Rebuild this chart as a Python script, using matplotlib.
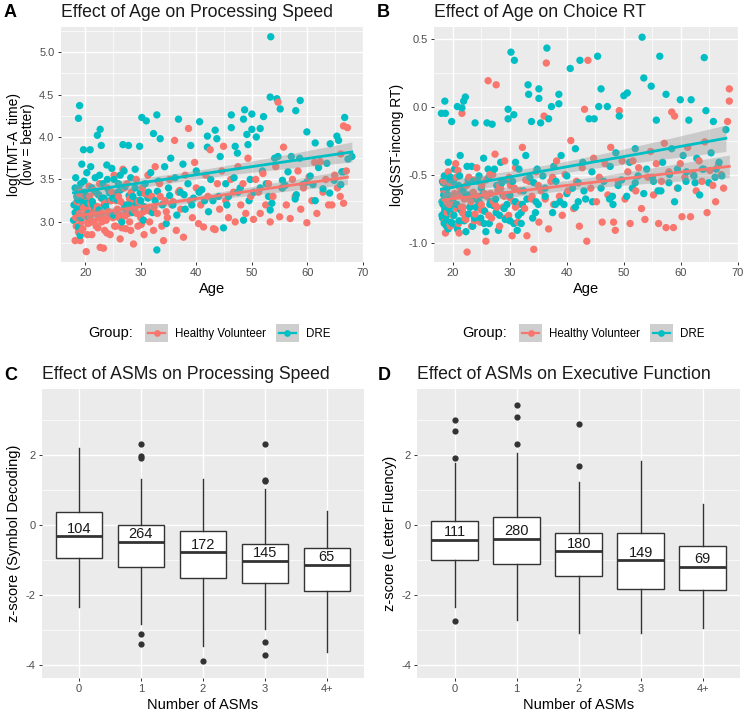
import numpy as np
import matplotlib
matplotlib.use("Agg")
import matplotlib.pyplot as plt
from matplotlib.patches import Rectangle
from matplotlib.lines import Line2D
from matplotlib.ticker import MultipleLocator

plt.rcParams['font.family'] = ['Liberation Sans', 'DejaVu Sans']
plt.rcParams['axes.unicode_minus'] = False

HV_COL = '#F8766D'
DRE_COL = '#00BFC4'

# ---- panel A: (age, log TMT-A time)
hv_tmt = [
    (18.2, 2.78), (18.4, 2.95), (18.5, 3.05), (18.6, 3.15), (18.7, 3.25), (18.8, 2.88), (19.0, 3.10),
    (19.1, 2.78), (19.2, 3.35), (19.3, 3.00), (19.5, 3.20), (19.6, 2.92), (19.8, 3.08), (20.0, 3.30),
    (20.2, 2.65), (20.3, 3.15), (20.5, 2.98), (20.7, 3.42), (20.9, 3.05), (21.0, 3.22), (21.2, 2.85),
    (21.4, 3.12), (21.6, 3.00), (21.8, 3.35), (22.0, 2.95), (22.2, 3.18), (22.4, 3.05), (22.7, 2.70),
    (22.9, 3.28), (23.0, 3.10), (23.3, 2.69), (23.5, 2.90), (23.6, 3.22), (23.8, 3.02), (24.0, 3.40),
    (24.2, 3.12), (24.5, 2.85), (24.7, 3.25), (25.0, 3.05), (25.2, 3.55), (25.5, 2.95), (25.8, 3.15),
    (26.0, 3.30), (26.3, 2.80), (26.5, 3.08), (26.8, 3.62), (27.0, 3.20), (27.3, 2.92), (27.5, 3.45),
    (27.8, 3.10), (28.0, 3.00), (28.3, 3.35), (28.7, 2.74), (29.0, 3.18), (29.2, 3.50), (29.5, 2.95),
    (29.8, 3.25), (30.0, 3.05), (30.3, 3.40), (30.6, 2.85), (31.0, 3.15), (31.3, 3.55), (31.6, 3.00),
    (32.0, 3.30), (32.3, 2.90), (32.6, 3.65), (33.0, 3.10), (33.4, 3.45), (33.8, 2.95), (34.1, 2.78),
    (34.4, 3.25), (34.8, 3.05), (35.2, 3.50), (35.6, 3.20), (36.1, 3.96), (36.4, 2.90), (36.8, 3.35),
    (37.2, 3.15), (37.7, 2.82), (38.0, 3.55), (38.6, 4.10), (38.9, 3.25), (39.3, 3.05), (39.7, 3.70),
    (40.0, 3.40), (40.4, 2.98), (40.8, 3.20), (41.3, 2.94), (41.7, 3.55), (42.1, 3.30), (42.5, 3.85),
    (43.1, 2.92), (43.4, 2.91), (43.8, 3.45), (44.2, 3.15), (44.6, 3.60), (44.9, 3.89), (45.3, 3.25),
    (45.8, 3.05), (46.2, 3.50), (46.7, 3.35), (47.0, 3.00), (47.5, 3.65), (48.0, 3.20), (48.4, 3.45),
    (48.9, 3.10), (49.3, 3.75), (49.8, 3.30), (50.3, 3.03), (50.7, 3.50), (51.2, 3.35), (51.5, 3.10),
    (52.0, 3.57), (52.5, 3.20), (53.0, 3.45), (53.3, 3.00), (53.8, 3.30), (54.3, 3.65), (54.7, 4.41),
    (55.0, 3.06), (55.4, 3.40), (55.7, 3.88), (56.2, 3.20), (56.9, 3.04), (57.3, 3.50), (57.8, 3.30),
    (58.3, 3.60), (58.8, 3.15), (59.3, 3.40), (59.9, 2.99), (60.3, 3.53), (60.8, 3.25), (61.3, 3.70),
    (61.7, 3.10), (62.3, 3.71), (62.8, 3.35), (63.3, 3.50), (63.8, 3.20), (64.4, 3.20), (64.9, 3.55),
    (65.4, 3.40), (65.9, 3.30), (66.5, 3.22), (66.5, 4.13), (67.2, 4.11), (67.0, 3.60), (66.0, 3.80),
    (18.3, 3.05), (18.6, 2.95), (19.0, 3.33), (19.4, 2.90), (19.7, 3.17), (20.1, 3.07), (20.4, 2.85),
    (20.8, 3.30), (21.1, 3.00), (21.5, 3.37), (21.9, 3.13), (22.3, 2.93), (22.6, 3.45), (23.1, 3.05),
    (23.4, 3.20), (23.9, 2.87), (24.3, 3.10), (24.8, 3.35), (25.3, 2.95), (25.6, 3.25), (26.1, 3.05),
    (26.6, 2.93), (27.1, 3.40), (27.6, 3.10), (28.2, 2.90), (28.6, 3.27), (29.3, 3.10), (30.1, 2.97),
    (30.8, 3.33), (31.5, 3.13),
    (18.5, 3.24), (19.0, 3.04), (19.6, 3.18), (20.2, 3.30), (20.6, 3.02), (21.2, 3.20), (21.8, 3.10),
    (22.4, 3.32), (23.0, 3.00), (23.7, 3.22), (24.3, 3.08), (25.0, 3.30), (25.7, 3.12), (26.4, 3.24),
    (27.2, 3.07), (28.0, 3.27), (28.8, 3.14), (29.6, 3.24), (30.5, 3.12), (31.4, 3.32), (32.4, 3.17),
    (33.5, 3.30), (34.6, 3.12), (35.8, 3.24), (37.0, 3.37),
]
dre_tmt = [
    (17.9, 3.02), (18.0, 3.20), (18.2, 3.40), (18.3, 3.52), (18.5, 3.30), (18.6, 3.15), (18.8, 2.94),
    (18.8, 4.22), (19.0, 4.37), (19.1, 2.84), (19.2, 3.45), (19.4, 3.68), (19.5, 3.25), (19.7, 3.85),
    (19.9, 3.35), (20.1, 3.25), (20.3, 3.58), (20.6, 3.10), (20.9, 3.85), (21.2, 3.40), (21.5, 3.20),
    (21.8, 3.52), (22.2, 4.02), (22.4, 3.32), (22.7, 4.09), (22.9, 3.90), (23.2, 3.45), (23.5, 3.20),
    (23.9, 3.67), (24.2, 3.38), (24.5, 3.25), (24.8, 3.63), (25.2, 3.50), (25.5, 3.10), (25.9, 3.35),
    (26.3, 3.55), (26.6, 3.00), (26.8, 3.91), (27.2, 3.42), (27.5, 3.20), (27.8, 3.90), (28.2, 3.52),
    (28.6, 3.30), (29.0, 3.62), (29.4, 3.25), (29.8, 3.89), (30.2, 4.23), (30.5, 3.02), (30.8, 3.45),
    (31.0, 4.19), (31.4, 3.35), (31.8, 3.58), (32.3, 4.04), (32.6, 3.25), (32.9, 4.26), (32.9, 2.67),
    (33.2, 3.48), (33.5, 3.98), (33.9, 3.20), (34.3, 3.65), (34.6, 2.98), (35.0, 3.40), (35.4, 3.75),
    (35.8, 3.20), (36.2, 3.52), (36.8, 4.21), (37.1, 3.35), (37.6, 3.68), (38.0, 3.15), (38.5, 3.45),
    (39.0, 3.90), (39.5, 3.28), (40.0, 3.60), (40.6, 4.18), (41.0, 3.38), (41.5, 3.25), (42.0, 4.01),
    (42.0, 3.88), (42.6, 3.50), (43.0, 3.25), (43.4, 4.08), (43.7, 3.98), (44.3, 3.77), (44.9, 2.93),
    (45.3, 3.45), (45.8, 3.30), (46.3, 4.26), (46.3, 4.11), (46.8, 3.52), (47.0, 3.89), (47.4, 3.81),
    (47.9, 3.40), (48.5, 4.21), (48.5, 3.02), (48.7, 4.32), (49.1, 4.03), (49.3, 3.91), (49.7, 3.50),
    (50.0, 4.27), (50.0, 4.09), (50.4, 3.35), (50.8, 4.00), (51.5, 4.10), (51.9, 3.60), (52.1, 4.24),
    (52.6, 3.45), (53.3, 3.14), (53.3, 4.47), (53.4, 5.18), (53.6, 3.22), (54.1, 3.75), (54.5, 4.45),
    (54.7, 3.77), (55.1, 4.33), (55.5, 3.49), (56.0, 3.43), (56.5, 3.59), (57.1, 3.77), (57.8, 3.27),
    (57.9, 4.31), (58.6, 3.75), (58.7, 4.43), (59.2, 3.44), (59.9, 3.47), (59.9, 4.06), (60.5, 3.54),
    (61.4, 3.93), (61.4, 3.25), (62.0, 3.64), (62.8, 3.39), (63.5, 3.69), (64.1, 3.92), (64.8, 3.49),
    (65.3, 4.01), (65.6, 3.96), (66.2, 3.59), (66.5, 3.59), (66.7, 4.23), (67.3, 3.74), (68.0, 3.77),
    (18.4, 3.10), (18.9, 3.38), (19.3, 3.05), (19.8, 3.48), (20.4, 3.22), (21.0, 3.65), (21.7, 3.15),
    (22.6, 3.55), (23.4, 3.28), (24.0, 3.50), (25.0, 3.28), (26.0, 3.45), (27.0, 3.60), (28.0, 3.20),
    (29.0, 3.40), (30.0, 3.25),
    (18.2, 3.11), (18.7, 3.26), (19.2, 3.04), (19.6, 3.18), (20.2, 3.31), (20.7, 3.06), (21.3, 3.24),
    (21.9, 3.36), (22.5, 3.14), (23.0, 3.28), (23.7, 3.18), (24.4, 3.34), (25.1, 3.08), (25.8, 3.26),
    (26.4, 3.38), (27.1, 3.16), (27.9, 3.31), (28.5, 3.11), (29.2, 3.21), (29.9, 3.34), (30.6, 3.18),
    (31.3, 3.28), (32.1, 3.11), (33.0, 3.36), (34.0, 3.21), (35.2, 3.31), (36.5, 3.08), (37.8, 3.32),
    (39.2, 3.20), (40.5, 3.35), (42.2, 3.12), (44.0, 3.30), (45.5, 3.20), (47.5, 3.35), (49.5, 3.25),
    (51.5, 3.40), (53.0, 3.30), (55.5, 3.40), (58.0, 3.32), (61.0, 3.44), (64.0, 3.34), (66.0, 3.44),
]

# ---- panel B: (age, log SST-incong RT)
hv_sst = [
    (18.2, -0.70), (18.4, -0.55), (18.5, -0.85), (18.7, -0.93), (18.8, -0.62), (19.0, -0.78), (19.2, -0.48),
    (19.4, -0.72), (19.6, -0.88), (19.8, -0.58), (20.0, -0.80), (20.2, -0.66), (20.5, -0.42), (20.7, -0.75),
    (21.0, -0.86), (21.1, -0.93), (21.3, -0.60), (21.6, -0.05), (21.8, -0.78), (22.0, -0.68), (22.3, -0.83),
    (22.5, -1.07), (22.8, -0.52), (23.0, -0.74), (23.3, -0.88), (23.6, -0.63), (23.9, -0.79), (24.2, -0.45),
    (24.5, -0.70), (24.8, -0.85), (25.1, -0.58), (25.4, -0.76), (25.8, -0.99), (26.0, -0.66), (26.2, 0.19),
    (26.5, -0.50), (26.8, -0.82), (27.1, -0.70), (27.4, -0.35), (27.6, 0.16), (27.9, -0.62), (28.2, -0.88),
    (28.5, -0.55), (28.8, -0.74), (29.1, -0.40), (29.4, -0.65), (29.8, -0.80), (30.1, -0.58), (30.4, -0.95),
    (30.7, -0.70), (31.0, -0.45), (31.4, -0.85), (31.8, -0.62), (32.2, -0.30), (32.6, -0.75), (33.0, -0.95),
    (33.4, -0.55), (33.8, -0.68), (34.2, -1.05), (34.6, -0.48), (35.1, -0.85), (35.5, -0.62), (36.0, -0.07),
    (36.4, 0.32), (36.8, -0.90), (37.2, -0.55), (37.7, -0.72), (38.2, -0.40), (38.7, -0.66), (39.2, -0.80),
    (39.7, -0.50), (40.2, -0.62), (40.7, -0.25), (41.2, -0.75), (41.7, -0.55), (42.2, -0.88), (42.7, -0.45),
    (43.1, -0.02), (43.5, -0.99), (43.7, 0.34), (44.2, -0.60), (44.7, -0.38), (45.2, -0.70), (45.7, -0.52),
    (46.2, -0.85), (46.7, -0.42), (47.2, -0.65), (47.7, -0.30), (48.2, -0.85), (48.5, -0.91), (49.0, -0.55),
    (49.2, -0.03), (49.7, -0.40), (50.2, -0.68), (50.7, -0.48), (51.1, -0.86), (51.6, -0.40), (52.1, -0.62),
    (52.6, -0.45), (53.1, -0.75), (53.7, -0.83), (54.2, -0.52), (54.7, -0.33), (55.2, -0.65), (55.7, -0.42),
    (56.1, -0.86), (56.6, -0.55), (57.1, -0.27), (57.4, -0.89), (57.9, -0.48), (58.4, -0.04), (58.7, -0.89),
    (58.9, -0.07), (59.4, -0.60), (59.9, -0.42), (60.2, -0.81), (60.7, -0.52), (61.2, -0.30), (61.7, -0.81),
    (62.2, -0.50), (62.7, -0.62), (63.2, -0.40), (63.7, -0.55), (64.2, -0.26), (64.6, -0.78), (65.1, -0.47),
    (65.6, -0.58), (66.1, -0.70), (66.6, -0.43), (67.1, -0.50), (67.5, -0.60), (68.2, -0.11), (68.5, 0.04),
    (68.5, 0.13),
    (18.3, -0.72), (18.9, -0.60), (19.5, -0.87), (20.3, -0.64), (20.9, -0.47), (21.5, -0.74), (22.1, -0.82),
    (22.6, -0.57), (23.2, -0.70), (23.8, -0.84), (24.4, -0.54), (25.0, -0.72), (25.6, -0.64), (26.3, -0.80),
    (27.0, -0.50), (27.7, -0.74), (28.4, -0.60), (29.2, -0.82), (30.0, -0.67), (31.0, -0.74),
    (18.4, -0.62), (18.9, -0.70), (19.5, -0.56), (20.1, -0.72), (20.6, -0.52), (21.2, -0.64), (21.8, -0.74),
    (22.4, -0.58), (23.0, -0.68), (23.6, -0.54), (24.3, -0.66), (25.0, -0.76), (25.8, -0.54), (26.6, -0.64),
    (27.4, -0.72), (28.2, -0.58), (29.0, -0.66), (29.9, -0.52), (30.8, -0.60), (31.8, -0.72), (32.8, -0.54),
    (33.9, -0.66), (35.0, -0.58), (36.2, -0.68), (37.5, -0.52),
]
dre_sst = [
    (18.0, -0.05), (18.1, -0.70), (18.2, -0.55), (18.3, -0.70), (18.4, -0.65), (18.5, -0.51), (18.6, 0.04),
    (18.7, -0.05), (18.8, -0.72), (18.9, -0.80), (19.0, -0.60), (19.2, -0.41), (19.4, -0.66), (19.6, -0.52),
    (19.8, -0.11), (20.0, -0.68), (20.3, -0.46), (20.6, -0.72), (20.8, 0.00), (21.0, -0.58), (21.3, -0.36),
    (21.6, -0.01), (21.9, 0.04), (22.2, 0.07), (22.4, -0.65), (22.7, -0.54), (23.0, -0.65), (23.3, -0.44),
    (23.6, -0.55), (23.9, -0.12), (24.2, -0.68), (24.6, -0.51), (25.0, -0.60), (25.4, -0.38), (25.8, -0.92),
    (26.0, -0.12), (26.3, -0.52), (26.6, -0.70), (26.9, -0.13), (27.3, -0.46), (27.7, -0.58), (28.0, -0.91),
    (28.4, -0.41), (28.8, -0.65), (29.2, -0.83), (29.5, -0.54), (29.7, -0.02), (29.7, -0.09), (30.2, 0.40),
    (30.5, -0.55), (30.7, -0.06), (30.7, -0.86), (30.8, 0.34), (31.3, -0.91), (31.6, -0.46), (32.0, -0.86),
    (32.4, -0.62), (32.8, -0.36), (33.2, 0.16), (33.3, 0.09), (33.8, -0.11), (34.2, -0.56), (34.6, -0.70),
    (35.1, 0.13), (35.1, 0.06), (35.4, -0.12), (35.8, -0.51), (36.2, -0.60), (36.5, 0.43), (36.8, -0.09),
    (37.3, 0.00), (37.7, -0.44), (38.1, -0.55), (38.6, 0.09), (38.6, 0.02), (39.0, -0.36), (39.5, -0.72),
    (40.0, -0.51), (40.6, 0.28), (41.0, -0.60), (41.5, -0.31), (42.0, -0.56), (42.3, 0.34), (42.8, -0.41),
    (43.3, -0.68), (43.9, -0.09), (44.4, -0.48), (44.8, -0.09), (45.4, 0.37), (45.6, 0.00), (46.0, 0.13),
    (46.5, -0.55), (47.1, 0.00), (47.6, -0.44), (48.1, -0.72), (48.6, -0.34), (49.2, -0.07), (49.6, -0.54),
    (50.0, 0.08), (50.6, 0.10), (51.0, -0.41), (51.5, -0.60), (52.0, -0.31), (52.5, -0.51), (53.2, 0.51),
    (53.5, 0.21), (54.0, -0.46), (54.8, 0.15), (55.2, -0.55), (55.7, -0.10), (56.3, 0.37), (56.8, -0.41),
    (57.4, 0.09), (57.9, -0.56), (58.4, -0.31), (58.9, -0.70), (59.4, -0.46), (59.9, 0.05), (60.4, -0.36),
    (60.9, -0.55), (61.4, -0.10), (61.8, 0.05), (62.3, -0.51), (62.8, -0.38), (63.3, -0.65), (63.8, -0.46),
    (64.1, 0.36), (64.4, -0.03), (64.9, -0.56), (65.3, -0.34), (65.7, -0.11), (66.2, -0.46), (66.7, -0.41),
    (67.2, -0.51), (67.9, -0.17),
    (18.3, -0.56), (18.6, -0.75), (19.1, -0.65), (19.5, -0.54), (20.1, -0.55), (20.7, -0.72), (21.2, -0.51),
    (21.8, -0.62), (22.5, -0.44), (23.5, -0.65), (24.4, -0.55), (25.2, -0.65), (26.2, -0.46), (27.5, -0.68),
    (28.6, -0.56), (30.0, -0.65), (31.0, -0.41), (32.2, -0.72), (33.5, -0.52), (34.8, -0.46),
    (18.2, -0.82), (18.5, -0.78), (18.9, -0.88), (19.3, -0.75), (19.7, -0.85), (20.2, -0.80), (20.8, -0.90),
    (21.4, -0.76), (22.0, -0.84), (22.8, -0.79), (23.5, -0.88), (24.1, -0.74), (24.9, -0.82), (25.6, -0.77),
    (26.4, -0.86), (27.2, -0.73), (28.2, -0.80), (29.0, -0.75), (30.0, -0.84), (31.0, -0.70), (32.0, -0.78),
    (33.0, -0.68), (34.0, -0.82), (35.0, -0.72), (36.2, -0.66), (37.5, -0.78), (38.8, -0.70), (40.0, -0.64),
    (41.5, -0.74), (43.0, -0.62), (44.5, -0.70), (46.0, -0.60), (47.5, -0.68), (49.0, -0.58), (50.5, -0.66),
    (52.0, -0.56), (53.5, -0.64), (55.0, -0.52), (56.5, -0.62), (58.0, -0.50), (59.5, -0.60), (61.0, -0.48),
    (62.5, -0.56), (64.0, -0.46), (66.0, -0.52),
    (18.1, -0.80), (18.3, -0.72), (18.5, -0.86), (18.7, -0.76), (18.9, -0.84), (19.2, -0.90), (19.6, -0.78),
    (20.0, -0.86), (20.5, -0.74), (21.1, -0.84), (21.7, -0.78), (22.3, -0.92), (23.0, -0.74), (23.8, -0.82),
    (24.6, -0.70), (25.5, -0.86), (26.5, -0.72), (27.6, -0.78), (29.5, -0.72), (31.5, -0.80), (34.5, -0.78),
    (38.0, -0.72), (42.0, -0.70), (48.0, -0.66), (56.0, -0.62),
]

# ---- panels C and D: box summaries per number of ASMs
asm_labels = ['0', '1', '2', '3', '4+']

sym_med = [-0.32, -0.47, -0.77, -1.02, -1.14]
sym_q1 = [-0.94, -1.19, -1.52, -1.64, -1.89]
sym_q3 = [0.39, 0.00, -0.15, -0.54, -0.64]
sym_lo = [-2.34, -2.83, -3.45, -2.97, -3.62]
sym_hi = [2.22, 1.32, 1.32, 1.04, 0.42]
sym_out = [[], [2.33, 1.99, 1.93, -3.12, -3.40], [-3.88], [2.33, 1.31, 1.26, -3.34, -3.71], []]
sym_n = [104, 264, 172, 145, 65]

flu_med = [-0.42, -0.39, -0.75, -1.00, -1.18]
flu_q1 = [-0.99, -1.11, -1.45, -1.81, -1.84]
flu_q3 = [0.12, 0.24, -0.23, -0.21, -0.58]
flu_lo = [-2.34, -2.72, -3.09, -3.09, -2.94]
flu_hi = [1.77, 2.06, 1.23, 1.83, 0.61]
flu_out = [[3.02, 2.71, 1.92, -2.75], [3.44, 3.09, 2.33], [2.91, 1.70], [], []]
flu_n = [111, 280, 180, 149, 69]

W, H = 748, 714


def px_axes(fig, left, top, right, bottom):
    return fig.add_axes([left / W, 1 - bottom / H, (right - left) / W, (bottom - top) / H])


def gg_style(ax):
    ax.set_facecolor('#EBEBEB')
    for s in ax.spines.values():
        s.set_visible(False)
    ax.set_axisbelow(True)
    ax.grid(which='major', color='white', lw=1.0)
    ax.grid(which='minor', color='white', lw=0.5)
    ax.tick_params(which='major', length=2.5, width=0.7, color='#333333',
                   labelcolor='#4D4D4D', labelsize=8, pad=2)
    ax.tick_params(which='minor', length=0)


class GroupKey:
    # ggplot style key: grey square with coloured line and dot
    def __init__(self, color):
        self.color = color

    def legend_artist(self, legend, orig_handle, fontsize, handlebox):
        x0, y0 = -handlebox.xdescent, -handlebox.ydescent
        w, h = handlebox.width, handlebox.height
        t = handlebox.get_transform()
        handlebox.add_artist(Rectangle((x0, y0), w, h, fc='#CECECE', ec='none', transform=t))
        handlebox.add_artist(Line2D([x0 + 0.12 * w, x0 + 0.88 * w], [y0 + h / 2] * 2,
                                    color=self.color, lw=1.6, transform=t))
        handlebox.add_artist(Line2D([x0 + w / 2], [y0 + h / 2], marker='o', ms=3.8,
                                    color=self.color, lw=0, transform=t))
        return handlebox


def scatter_panel(ax, hv, dre):
    hv = np.array(hv)
    dre = np.array(dre)
    # interleave groups by age so neither colour sits fully on top
    pts = np.vstack([hv, dre])
    cols = np.array([HV_COL] * len(hv) + [DRE_COL] * len(dre))
    order = np.argsort(pts[:, 0], kind='stable')
    ax.scatter(pts[order, 0], pts[order, 1], s=28, c=cols[order], lw=0, zorder=2)
    for grp, col in ((hv, HV_COL), (dre, DRE_COL)):
        x, y = grp[:, 0], grp[:, 1]
        b, a = np.polyfit(x, y, 1)
        xs = np.linspace(x.min(), x.max(), 80)
        res = y - (a + b * x)
        s = np.sqrt((res ** 2).sum() / (len(x) - 2))
        se = s * np.sqrt(1 / len(x) + (xs - x.mean()) ** 2 / ((x - x.mean()) ** 2).sum())
        ax.fill_between(xs, a + b * xs - 1.96 * se, a + b * xs + 1.96 * se,
                        color='#999999', alpha=0.4, lw=0, zorder=3)
        ax.plot(xs, a + b * xs, color=col, lw=2.0, zorder=4)
    ax.set_xticks([20, 30, 40, 50, 60, 70])
    ax.xaxis.set_minor_locator(MultipleLocator(5))
    ax.set_xlabel('Age', fontsize=10.5, labelpad=3)

    handles = [Line2D([], [], color=HV_COL), Line2D([], [], color=DRE_COL)]
    ax.text(0.239, -0.302, 'Group:', transform=ax.transAxes, ha='right', va='center', fontsize=10.5)
    ax.legend(handles, ['Healthy Volunteer', 'DRE'], ncol=2, loc='center left',
              bbox_to_anchor=(0.28, -0.302), frameon=False, fontsize=8.3,
              handlelength=1.95, handleheight=1.95, handletextpad=0.6, columnspacing=0.9,
              borderpad=0, borderaxespad=0,
              handler_map={handles[0]: GroupKey(HV_COL), handles[1]: GroupKey(DRE_COL)})


def box_panel(ax, med, q1, q3, lo, hi, out, counts):
    stats = []
    for i in range(len(asm_labels)):
        stats.append(dict(med=med[i], q1=q1[i], q3=q3[i], whislo=lo[i], whishi=hi[i],
                          fliers=out[i], label=asm_labels[i]))
    ax.bxp(stats, positions=range(len(stats)), widths=0.75, patch_artist=True, showcaps=False,
           boxprops=dict(facecolor='white', edgecolor='#333333', lw=1.0),
           whiskerprops=dict(color='#333333', lw=1.0),
           medianprops=dict(color='#333333', lw=2.0),
           flierprops=dict(marker='o', mfc='#333333', mec='none', ms=4.5))
    for i, n in enumerate(counts):
        ax.annotate(str(n), (i, med[i]), xytext=(0, 5.5), textcoords='offset points',
                    ha='center', va='center', fontsize=10.5, color='#1A1A1A')
    ax.set_xlim(-0.6, 4.6)
    ax.set_ylim(-4.37, 3.9)
    ax.set_yticks([-4, -2, 0, 2])
    ax.yaxis.set_minor_locator(MultipleLocator(1))
    ax.grid(which='minor', axis='x', visible=False)
    ax.set_xlabel('Number of ASMs', fontsize=10.5, labelpad=3)


fig = plt.figure(figsize=(W / 100, H / 100), dpi=100)

axA = px_axes(fig, 60.7, 27, 363, 262)
axB = px_axes(fig, 434, 27, 739, 262)
axC = px_axes(fig, 41.7, 389, 364, 678)
axD = px_axes(fig, 417.3, 389, 740, 678)
for ax in (axA, axB, axC, axD):
    gg_style(ax)

# A
scatter_panel(axA, hv_tmt, dre_tmt)
axA.set_xlim(15.6, 70.0)
axA.set_ylim(2.528, 5.295)
axA.set_yticks([3.0, 3.5, 4.0, 4.5, 5.0])
axA.yaxis.set_minor_locator(MultipleLocator(0.25))
axA.set_ylabel('log(TMT-A  time)\n(low = better)', fontsize=10, labelpad=3, linespacing=1.0)

# B
scatter_panel(axB, hv_sst, dre_sst)
axB.set_xlim(16.7, 70.2)
axB.set_ylim(-1.143, 0.585)
axB.set_yticks([-1.0, -0.5, 0.0, 0.5])
axB.set_yticklabels(['-1.0', '-0.5', '0.0', '0.5'])
axB.yaxis.set_minor_locator(MultipleLocator(0.25))
axB.set_ylabel('log(SST-incong RT)', fontsize=10, labelpad=3)

# C, D
box_panel(axC, sym_med, sym_q1, sym_q3, sym_lo, sym_hi, sym_out, sym_n)
axC.set_ylabel('z-score (Symbol Decoding)', fontsize=10.5, labelpad=3)
box_panel(axD, flu_med, flu_q1, flu_q3, flu_lo, flu_hi, flu_out, flu_n)
axD.set_ylabel('z-score (Letter Fluency)', fontsize=10.5, labelpad=3)

titles = [(axA, 'A', 'Effect of Age on Processing Speed', 4, 17),
          (axB, 'B', 'Effect of Age on Choice RT', 377, 17),
          (axC, 'C', 'Effect of ASMs on Processing Speed', 4, 380),
          (axD, 'D', 'Effect of ASMs on Executive Function', 378, 380)]
for ax, letter, title, lx, ly in titles:
    ax.set_title(title, loc='left', fontsize=12.7, pad=7, color='#1A1A1A')
    fig.text(lx / W, 1 - ly / H, letter, fontsize=13, fontweight='bold', va='baseline')

fig.savefig('out.png', dpi=100)
